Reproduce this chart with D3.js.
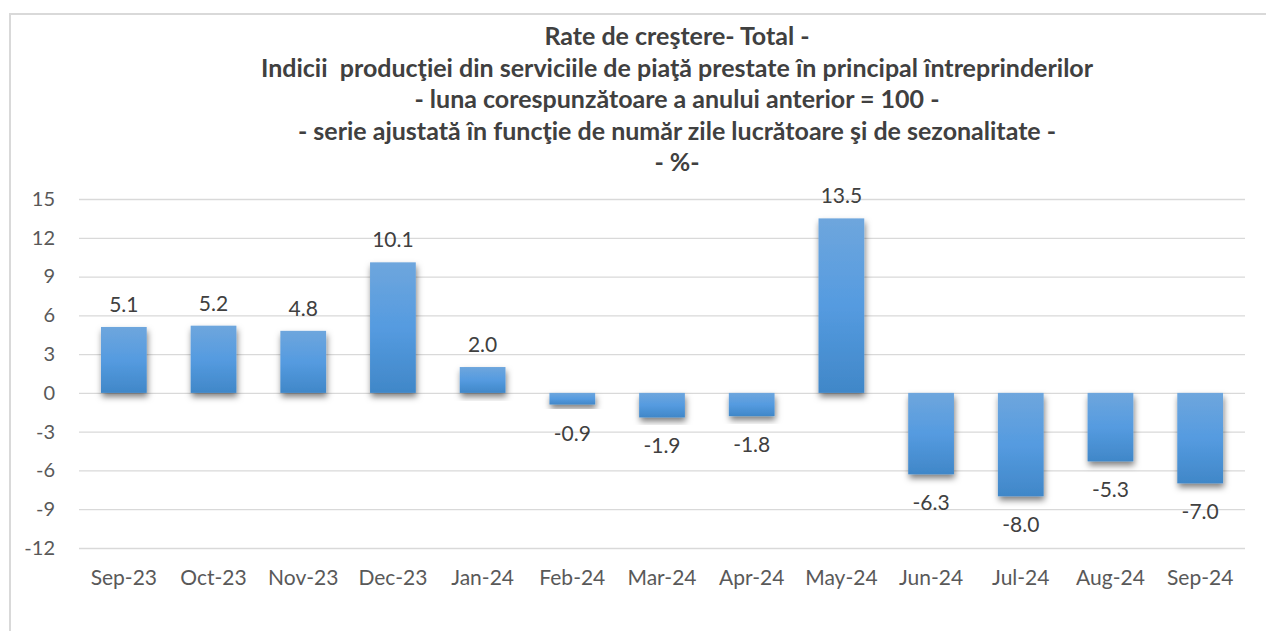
<!DOCTYPE html>
<html>
<head>
<meta charset="utf-8">
<script src="https://cdn.jsdelivr.net/npm/d3@7"></script>
<style>
  body { margin: 0; background: #fff; }
  text { font-family: Lato, "Open Sans", sans-serif; }
</style>
</head>
<body>
<svg id="chart"></svg>
<script>
// data
const months = ["Sep-23", "Oct-23", "Nov-23", "Dec-23", "Jan-24", "Feb-24", "Mar-24",
                "Apr-24", "May-24", "Jun-24", "Jul-24", "Aug-24", "Sep-24"];
const rates = [5.1, 5.2, 4.8, 10.1, 2.0, -0.9, -1.9, -1.8, 13.5, -6.3, -8.0, -5.3, -7.0];
const yTicks = [15, 12, 9, 6, 3, 0, -3, -6, -9, -12];
const titleLines = [
    "Rate de creştere- Total -",
    "Indicii  producţiei din serviciile de piaţă prestate în principal întreprinderilor",
    "- luna corespunzătoare a anului anterior = 100 -",
    "- serie ajustată în funcţie de număr zile lucrătoare şi de sezonalitate -",
    "- %-"
];

const W = 1266, H = 631;
const margin = { top: 199, right: 21, bottom: 83, left: 79 };
const width = W - margin.left - margin.right;
const height = H - margin.top - margin.bottom;

const svg = d3.select("#chart").attr("width", W).attr("height", H);

// chart border
svg.append("path")
    .attr("d", `M10,${H} V14 H${W}`)
    .attr("fill", "none")
    .attr("stroke", "#d9d9d9")
    .attr("stroke-width", 2);

const defs = svg.append("defs");
const grad = defs.append("linearGradient")
    .attr("id", "barGrad")
    .attr("x1", 0).attr("y1", 0).attr("x2", 0).attr("y2", 1);
grad.append("stop").attr("offset", "0%").attr("stop-color", "#6ea6dd");
grad.append("stop").attr("offset", "50%").attr("stop-color", "#559be0");
grad.append("stop").attr("offset", "100%").attr("stop-color", "#4087c8");

const shadow = defs.append("filter")
    .attr("id", "shadow")
    .attr("x", "-30%").attr("y", "-30%").attr("width", "160%").attr("height", "160%");
shadow.append("feDropShadow")
    .attr("dx", 1).attr("dy", 4).attr("stdDeviation", 3)
    .attr("flood-color", "#000").attr("flood-opacity", 0.5);

// title
svg.append("g").selectAll("text")
    .data(titleLines)
    .join("text")
    .attr("x", 677)
    .attr("y", (d, i) => 45 + i * 31.5)
    .attr("text-anchor", "middle")
    .attr("font-size", 25)
    .attr("font-weight", "bold")
    .attr("fill", "#404040")
    .style("white-space", "pre")
    .text(d => d);

const g = svg.append("g").attr("transform", `translate(${margin.left},${margin.top})`);

const x = d3.scaleBand().domain(months).range([0, width]).paddingInner(0.49).paddingOuter(0.245);
const y = d3.scaleLinear().domain([-12, 15]).range([height, 0]);

// gridlines
g.append("g")
    .call(d3.axisLeft(y).tickValues(yTicks).tickSize(-width).tickFormat(""))
    .call(a => a.select(".domain").remove())
    .call(a => a.selectAll("line").attr("stroke", "#d9d9d9").attr("stroke-width", 1.3));

// y labels
g.append("g")
    .call(d3.axisLeft(y).tickValues(yTicks).tickSize(0).tickPadding(24).tickFormat(d => String(d)))
    .call(a => a.select(".domain").remove())
    .call(a => a.selectAll("text")
        .attr("font-size", 20)
        .attr("fill", "#595959")
        .style("font-family", "Lato, sans-serif"));

// bars
g.append("g").selectAll("rect")
    .data(rates)
    .join("rect")
    .attr("x", (d, i) => x(months[i]))
    .attr("y", d => y(Math.max(0, d)))
    .attr("width", x.bandwidth())
    .attr("height", d => Math.abs(y(d) - y(0)))
    .attr("fill", "url(#barGrad)")
    .attr("filter", "url(#shadow)");

// data labels
g.append("g").selectAll("text")
    .data(rates)
    .join("text")
    .attr("x", (d, i) => x(months[i]) + x.bandwidth() / 2)
    .attr("y", d => d >= 0 ? y(d) - 15 : y(d) + 36)
    .attr("text-anchor", "middle")
    .attr("font-size", 21)
    .attr("fill", "#404040")
    .text(d => d.toFixed(1));

// x labels
g.append("g")
    .attr("transform", `translate(0,${height})`)
    .call(d3.axisBottom(x).tickSize(0).tickPadding(22))
    .call(a => a.select(".domain").remove())
    .call(a => a.selectAll("text")
        .attr("font-size", 21)
        .attr("fill", "#595959")
        .style("font-family", "Lato, sans-serif"));
</script>
</body>
</html>
